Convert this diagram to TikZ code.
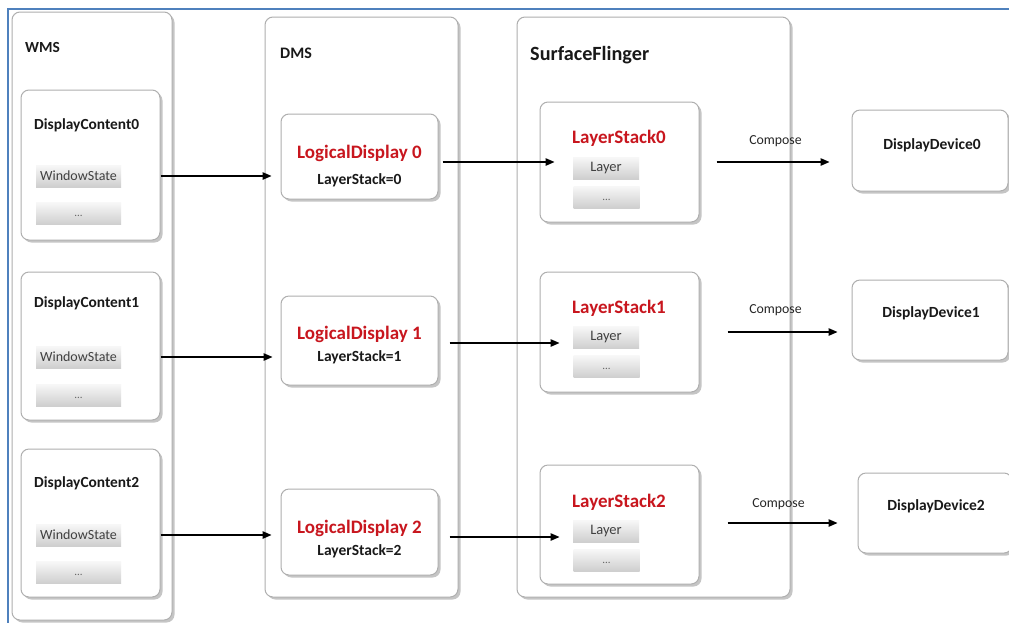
\documentclass[tikz,border=0pt]{standalone}
\usepackage{fontspec}
\setmainfont{Carlito}
\usetikzlibrary{arrows.meta,shadows}
\definecolor{myred}{RGB}{200,22,30}
\definecolor{frameblue}{RGB}{79,129,189}
\definecolor{bord}{RGB}{175,175,175}
\definecolor{txt}{RGB}{25,25,25}
\begin{document}
\begin{tikzpicture}[x=1pt,y=-1pt,
  shad/.style={drop shadow={shadow xshift=2.5pt,shadow yshift=-2.5pt,fill=black!45,opacity=0.5}},
  panel/.style={draw=bord, line width=1pt, rounded corners=8pt, fill=white, shad, inner sep=0pt},
  inbox/.style={draw=bord, line width=1pt, rounded corners=8pt, fill=white, shad, inner sep=0pt},
  graybox/.style={draw=none, top color=gray!6, bottom color=gray!38, inner sep=0pt, minimum height=22pt},
  wsbox/.style={graybox, minimum width=85pt, font=\fontsize{14}{16}\selectfont, text=black!75},
  lybox/.style={graybox, minimum width=66pt, font=\fontsize{14.5}{16}\selectfont, text=black!75},
  dots/.style={font=\fontsize{11}{12}\selectfont, text=black!60},
  blab/.style={font=\bfseries\fontsize{15.4}{17}\selectfont, text=txt, inner sep=0pt},
  rlab/.style={font=\bfseries\fontsize{19}{21}\selectfont, text=myred, inner sep=0pt},
  slab/.style={font=\bfseries\fontsize{15.5}{17}\selectfont, text=txt, inner sep=0pt},
  clab/.style={font=\fontsize{13.8}{15}\selectfont, text=black!85, inner sep=0pt},
  arr/.style={-{Triangle[length=9pt,width=7.5pt]}, line width=1.3pt, black}
]
\clip (0,0) rectangle (1009,622);
\fill[white] (0,0) rectangle (1009,622);
\draw[frameblue, line width=2pt] (8,640) -- (8,9) -- (1030,9);

% panels
\node[panel, minimum width=160pt, minimum height=608pt] (wms) at (92,316) {};
\node[panel, minimum width=193pt, minimum height=580pt] (dms) at (361.5,307) {};
\node[panel, minimum width=273pt, minimum height=580pt] (sf) at (653.5,307) {};
\node[blab, anchor=west] (wmsl) at (25,47) {WMS};
\node[font=\bfseries\fontsize{16}{18}\selectfont, text=txt, inner sep=0pt, anchor=west] (dmsl) at (280,53) {DMS};
\node[font=\bfseries\fontsize{20.2}{22}\selectfont, text=txt, inner sep=0pt, anchor=west] (sfl) at (530,55) {SurfaceFlinger};

% WMS display contents
\node[inbox, minimum width=139pt, minimum height=150pt] (dc0) at (90.5,165) {};
\node[inbox, minimum width=139pt, minimum height=148pt] (dc1) at (90.5,346) {};
\node[inbox, minimum width=139pt, minimum height=148pt] (dc2) at (90.5,523) {};
\node[blab, anchor=west] (dc0l) at (34,125) {DisplayContent0};
\node[blab, anchor=west] (dc1l) at (34,303) {DisplayContent1};
\node[blab, anchor=west] (dc2l) at (34,483) {DisplayContent2};
\node[wsbox] (ws0) at (78.5,176) {WindowState};
\node[wsbox] (wd0) at (78.5,213.5) {};
\node[dots] (wd0t) at (78.5,216) {...};
\node[wsbox] (ws1) at (78.5,357) {WindowState};
\node[wsbox] (wd1) at (78.5,395) {};
\node[dots] (wd1t) at (78.5,397.5) {...};
\node[wsbox] (ws2) at (78.5,535) {WindowState};
\node[wsbox] (wd2) at (78.5,572.5) {};
\node[dots] (wd2t) at (78.5,575) {...};

% DMS logical displays
\node[inbox, minimum width=157pt, minimum height=85pt] (ld0) at (359.5,156.5) {};
\node[inbox, minimum width=157pt, minimum height=89pt] (ld1) at (359.5,340.5) {};
\node[inbox, minimum width=157pt, minimum height=86pt] (ld2) at (359.5,532) {};
\node[rlab] (ld0a) at (359.5,153) {LogicalDisplay 0};
\node[slab] (ld0b) at (359.5,180) {LayerStack=0};
\node[rlab] (ld1a) at (359.5,334) {LogicalDisplay 1};
\node[slab] (ld1b) at (359.5,357) {LayerStack=1};
\node[rlab] (ld2a) at (359.5,528) {LogicalDisplay 2};
\node[slab] (ld2b) at (359.5,551) {LayerStack=2};

% SurfaceFlinger layer stacks
\node[inbox, minimum width=159pt, minimum height=120pt] (ls0) at (619.5,162) {};
\node[inbox, minimum width=159pt, minimum height=120pt] (ls1) at (619.5,332) {};
\node[inbox, minimum width=159pt, minimum height=119pt] (ls2) at (619.5,524.5) {};
\node[rlab] (ls0t) at (619,138) {LayerStack0};
\node[rlab] (ls1t) at (619,308) {LayerStack1};
\node[rlab] (ls2t) at (619,502) {LayerStack2};
\node[lybox] (ly0) at (606,168) {Layer};
\node[lybox] (lz0) at (606.5,197) {};
\node[dots] (lz0t) at (606.5,199.5) {...};
\node[lybox] (ly1) at (606,337.5) {Layer};
\node[lybox] (lz1) at (606.5,366.5) {};
\node[dots] (lz1t) at (606.5,369) {...};
\node[lybox] (ly2) at (606,531) {Layer};
\node[lybox] (lz2) at (606.5,560) {};
\node[dots] (lz2t) at (606.5,562.5) {...};

% display devices
\node[inbox, minimum width=156pt, minimum height=81pt] (dd0) at (930,150.5) {};
\node[inbox, minimum width=156pt, minimum height=80pt] (dd1) at (930,320) {};
\node[inbox, minimum width=154pt, minimum height=80pt] (dd2) at (935,513) {};
\node[slab] (dd0l) at (932,145) {DisplayDevice0};
\node[slab] (dd1l) at (931,313) {DisplayDevice1};
\node[slab] (dd2l) at (936,506) {DisplayDevice2};

% arrows WMS -> DMS
\draw[arr, shorten >=9pt] (ws0.east -| dc0.east) -- (ws0.east -| ld0.west);
\draw[arr, shorten >=8pt] (ws1.east -| dc1.east) -- (ws1.east -| ld1.west);
\draw[arr, shorten >=9pt] (ws2.east -| dc2.east) -- (ws2.east -| ld2.west);
% arrows DMS -> SF
\draw[arr, shorten <=4pt, shorten >=-15pt] (ld0.east |- ls0.west) -- (ls0.west);
\draw[arr, shorten <=11pt, shorten >=-20pt] ([yshift=-2.5pt]ld1.east) -- ([yshift=-2.5pt]ld1.east -| ls1.west);
\draw[arr, shorten <=11pt, shorten >=-20pt] ([yshift=-5pt]ld2.east) -- ([yshift=-5pt]ld2.east -| ls2.west);
% compose arrows
\draw[arr, shorten <=17pt, shorten >=22pt] (ls0.east) -- (ls0.east -| dd0.west)
  node[clab, pos=0.5, above=15pt] (c0) {Compose};
\draw[arr, shorten <=28pt, shorten >=14pt] (ls1.east) -- (ls1.east -| dd1.west)
  node[clab, pos=0.5, above=16pt] (c1) {Compose};
\draw[arr, shorten <=28pt, shorten >=20pt] ([yshift=1.5pt]ls2.east) -- ([yshift=1.5pt]ls2.east -| dd2.west)
  node[clab, pos=0.5, above=13pt] (c2) {Compose};
\end{tikzpicture}
\end{document}
